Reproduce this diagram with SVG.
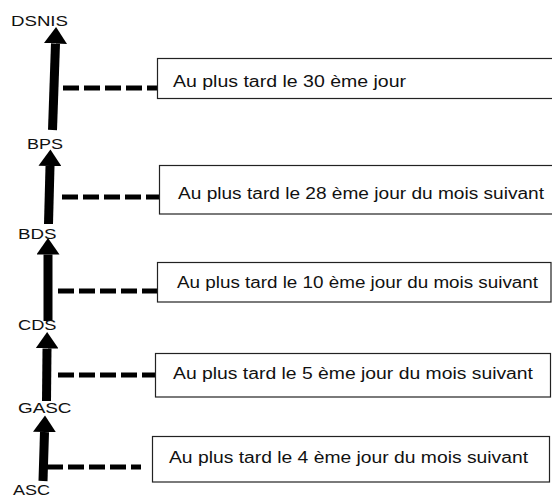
<svg xmlns="http://www.w3.org/2000/svg" width="552" height="497" viewBox="0 0 552 497">
<defs>
<marker id="ah" markerUnits="userSpaceOnUse" markerWidth="17" markerHeight="23" refX="0" refY="11.5" orient="auto">
<path d="M0,0 L16.5,11.5 L0,23 Z" fill="#000"/>
</marker>
<style>
.lbl{font-family:"Liberation Sans",Arial,sans-serif;font-size:15.5px;fill:#111}
.txt{font-family:"Liberation Sans",Arial,sans-serif;font-size:16px;fill:#111}
.box{fill:#fff;stroke:#222;stroke-width:1.2}
.shaft{stroke:#000;stroke-width:9;fill:none;marker-end:url(#ah)}
.dash{stroke:#000;stroke-width:5;stroke-dasharray:16 5;fill:none}
</style>
</defs>
<rect width="552" height="497" fill="#fff"/>
<g id="connectors">
<line class="shaft" x1="52.5" y1="130" x2="55.5" y2="43.5"/>
<line class="shaft" x1="48.5" y1="224" x2="50" y2="166"/>
<line class="shaft" x1="48" y1="321" x2="48" y2="254.5"/>
<line class="shaft" x1="46.5" y1="401" x2="47" y2="348.5"/>
<line class="shaft" x1="43" y1="481" x2="44.5" y2="432"/>
<line class="dash" x1="63" y1="88" x2="158" y2="88"/>
<line class="dash" x1="62" y1="197" x2="160" y2="197"/>
<line class="dash" x1="58" y1="291" x2="158" y2="291"/>
<line class="dash" x1="58" y1="375" x2="156" y2="375"/>
<line class="dash" x1="47" y1="467" x2="141" y2="467"/>
</g>
<g id="DSNIS"><text class="lbl" x="11" y="26" textLength="57" lengthAdjust="spacingAndGlyphs">DSNIS</text></g>
<g id="BPS"><text class="lbl" x="27" y="149" textLength="36" lengthAdjust="spacingAndGlyphs">BPS</text></g>
<g id="BDS"><text class="lbl" x="18" y="239" textLength="38.5" lengthAdjust="spacingAndGlyphs">BDS</text></g>
<g id="CDS"><text class="lbl" x="18" y="329.5" textLength="38.5" lengthAdjust="spacingAndGlyphs">CDS</text></g>
<g id="GASC"><text class="lbl" x="18" y="413" textLength="53.5" lengthAdjust="spacingAndGlyphs">GASC</text></g>
<g id="ASC"><text class="lbl" x="13" y="495" textLength="37" lengthAdjust="spacingAndGlyphs">ASC</text></g>
<g id="box1">
<rect class="box" x="157.5" y="58.5" width="410" height="40"/>
<text class="txt" x="173" y="87" textLength="233" lengthAdjust="spacingAndGlyphs">Au plus tard le 30 ème jour</text>
</g>
<g id="box2">
<rect class="box" x="159.5" y="165.5" width="410" height="48.5"/>
<text class="txt" x="178" y="198.5" textLength="366" lengthAdjust="spacingAndGlyphs">Au plus tard le 28 ème jour du mois suivant</text>
</g>
<g id="box3">
<rect class="box" x="157.5" y="262.5" width="393.5" height="39.5"/>
<text class="txt" x="177" y="288" textLength="361" lengthAdjust="spacingAndGlyphs">Au plus tard le 10 ème jour du mois suivant</text>
</g>
<g id="box4">
<rect class="box" x="155.5" y="353.5" width="395" height="43.5"/>
<text class="txt" x="173" y="379" textLength="360" lengthAdjust="spacingAndGlyphs">Au plus tard le 5 ème jour du mois suivant</text>
</g>
<g id="box5">
<rect class="box" x="152.5" y="436.5" width="397" height="45.5"/>
<text class="txt" x="169" y="463" textLength="359" lengthAdjust="spacingAndGlyphs">Au plus tard le 4 ème jour du mois suivant</text>
</g>
</svg>
